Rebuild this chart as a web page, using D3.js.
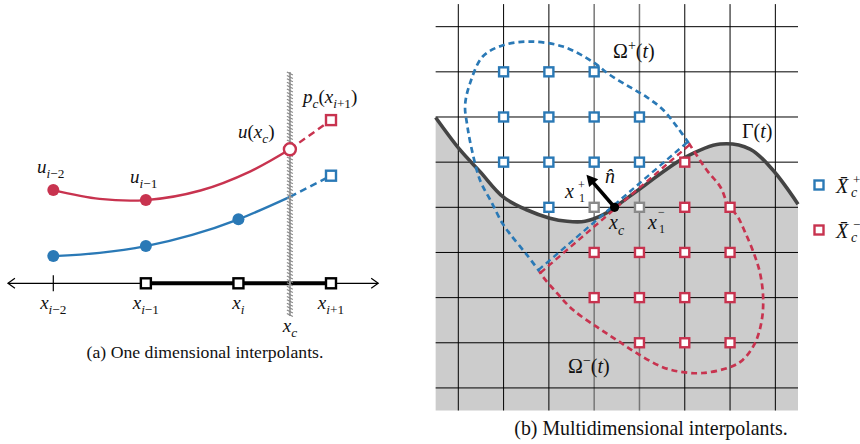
<!DOCTYPE html>
<html>
<head>
<meta charset="utf-8">
<script src="https://cdn.jsdelivr.net/npm/d3@7"></script>
<style>
  body { margin: 0; background: #fff; }
  svg { display: block; }
</style>
</head>
<body>
<svg id="fig" width="860" height="444"></svg>
<script>
// ---------- colours ----------
const BLUE = "#2a79b6";
const RED = "#c8334f";
const GREY_NODE = "#8a8a8a";

// pick the first installed Times-like face
const serifCandidates = ["Liberation Serif", "Tinos", "Times New Roman", "Nimbus Roman", "DejaVu Serif", "Noto Serif", "FreeSerif"];
function pickFont() {
  const ctx = document.createElement("canvas").getContext("2d");
  const probe = "(b) Multidimensional interpolants. WMxil";
  const w = f => { ctx.font = "40px " + f; return ctx.measureText(probe).width; };
  const base1 = w("monospace"), base2 = w("sans-serif");
  for (const f of serifCandidates) {
    const a = w(`"${f}", monospace`), b = w(`"${f}", sans-serif`);
    if (Math.abs(a - base1) > 0.5 && Math.abs(b - base2) > 0.5) return f;
  }
  return null;
}
const chosen = pickFont();
const FONT = chosen ? `"${chosen}", serif` : "serif";

// ---------- (a) one-dimensional data ----------
// grid nodes x_{i-2} .. x_{i+1} (index units) and their subscript offsets
const nodeIndex = [0, 1, 2, 3];
const nodeSub = ["\u22122", "\u22121", "", "+1"];
const stencilNodes = [1, 2, 3];          // nodes drawn as squares on the axis
const interfaceIndex = 2.556;            // location of x_c between x_i and x_{i+1}

// red interpolant (u_{i-2}, u_{i-1} -> u(x_c)) and its extrapolation
const redCurve = [[0, 2.33], [0.5, 2.11], [1, 2.08], [1.59, 2.32], [2.13, 2.80], [2.556, 3.35]];
const redExtrap = [[2.556, 3.35], [3, 4.08]];
const redDots = [[0, 2.33], [1, 2.08]];

// blue interpolant and its extrapolation
const blueCurve = [[0, 0.68], [0.5, 0.76], [1, 0.93], [1.5, 1.21], [2, 1.60], [2.556, 2.16]];
const blueExtrap = [[2.556, 2.16], [3, 2.69]];
const blueDots = [[0, 0.68], [1, 0.93], [2, 1.60]];

// ---------- (b) multidimensional data (grid units) ----------
const gridCols = d3.range(0, 8);
const gridRows = d3.range(0, 9);
const greyCols = [3, 4];

// interface Gamma(t)
const gammaCurve = [[-0.5, 2.01], [0.04, 2.73], [0.48, 3.21], [0.99, 3.77], [1.52, 4.06], [2.02, 4.24],
  [2.40, 4.31], [2.80, 4.31], [3.19, 4.17], [3.45, 4.0], [4.08, 3.54], [4.98, 2.91], [5.78, 2.60],
  [6.44, 2.71], [6.94, 3.17], [7.5, 3.93]];

// shared straight edge of the two stencil regions
const sharedEdge = [[1.79, 5.42], [5.09, 2.58]];
// Omega+ stencil boundary (from the shared edge's upper end, round to its lower end)
const plusBoundary = [[5.09, 2.58], [4.83, 2.22], [4.52, 1.84], [4.16, 1.56], [3.79, 1.34], [3.35, 1.07],
  [2.97, 0.78], [2.31, 0.44], [1.58, 0.33], [0.99, 0.41], [0.54, 0.66], [0.26, 1.25], [0.15, 1.74],
  [0.20, 2.2], [0.30, 2.73], [0.48, 3.40], [0.74, 3.90], [0.96, 4.33], [1.14, 4.59], [1.52, 5.06], [1.79, 5.42]];
// Omega- stencil boundary
const minusBoundary = [[5.09, 2.58], [5.48, 3.17], [5.78, 3.54], [5.96, 3.95], [6.17, 4.21], [6.33, 4.55],
  [6.50, 4.95], [6.66, 5.45], [6.73, 5.99], [6.70, 6.50], [6.55, 7.01], [6.28, 7.38], [6.00, 7.54],
  [5.40, 7.67], [4.96, 7.65], [4.51, 7.54], [3.94, 7.23], [3.50, 6.94], [3.06, 6.65], [2.53, 6.27],
  [2.18, 5.90], [1.87, 5.54], [1.79, 5.42]];

// stencil nodes [col, row]
const plusNodes = [[1, 1], [2, 1], [3, 1], [1, 2], [2, 2], [3, 2], [4, 2], [1, 3], [2, 3], [3, 3], [4, 3], [2, 4]];
const probeNodes = [[3, 4], [4, 4]];
const minusNodes = [[5, 3], [5, 4], [6, 4], [3, 5], [4, 5], [5, 5], [6, 5], [3, 6], [4, 6], [5, 6], [6, 6],
  [4, 7], [5, 7], [6, 7]];

const xcPoint = [3.45, 4.0];
const normalTip = [2.83, 3.28];

// ---------- helpers ----------
const svg = d3.select("#fig");

// math-style label: parts = [{t, it, pos:'sub'|'sup'}]
function mathLabel(g, x, y, parts, size, anchor) {
  const txt = g.append("text")
    .attr("x", x).attr("y", y)
    .style("font-family", FONT)
    .attr("font-size", size)
    .attr("text-anchor", anchor || "start")
    .attr("fill", "#111");
  let cur = 0;
  parts.forEach(p => {
    let target = 0, fs = size;
    if (p.pos === "sub") { target = 0.28 * size; fs = 0.7 * size; }
    if (p.pos === "sup") { target = -0.38 * size; fs = 0.7 * size; }
    txt.append("tspan")
      .attr("dy", target - cur)
      .attr("font-size", fs)
      .attr("font-style", p.it ? "italic" : "normal")
      .text(p.t);
    cur = target;
  });
  return txt;
}

function squares(g, data, sx, sy, color, size, sw) {
  g.selectAll(null).data(data).enter().append("rect")
    .attr("x", d => sx(d[0]) - size / 2)
    .attr("y", d => sy(d[1]) - size / 2)
    .attr("width", size).attr("height", size)
    .attr("fill", "#fff").attr("stroke", color).attr("stroke-width", sw);
}

// =====================================================================
// (a) One dimensional interpolants
// =====================================================================
const xL = d3.scaleLinear().domain([0, 3]).range([53.3, 331]);
const yL = d3.scaleLinear().domain([0, 4]).range([283.3, 123.3]);
const lineL = d3.line().x(d => xL(d[0])).y(d => yL(d[1])).curve(d3.curveCatmullRom.alpha(0.5));
const gA = svg.append("g");

// axis with double arrow
const axY = yL(0);
const axL = xL(-0.49), axR = xL(3.51);
gA.append("line").attr("x1", axL).attr("x2", axR).attr("y1", axY).attr("y2", axY)
  .attr("stroke", "#000").attr("stroke-width", 1.2);
gA.append("path").attr("d", `M${axL + 7},${axY - 5}L${axL},${axY}L${axL + 7},${axY + 5}`)
  .attr("fill", "none").attr("stroke", "#000").attr("stroke-width", 1.2);
gA.append("path").attr("d", `M${axR - 7},${axY - 5}L${axR},${axY}L${axR - 7},${axY + 5}`)
  .attr("fill", "none").attr("stroke", "#000").attr("stroke-width", 1.2);
// stencil segment
gA.append("line").attr("x1", xL(stencilNodes[0])).attr("x2", xL(stencilNodes[stencilNodes.length - 1]))
  .attr("y1", axY).attr("y2", axY).attr("stroke", "#000").attr("stroke-width", 4);
// plain tick at x_{i-2}
gA.append("line").attr("x1", xL(0)).attr("x2", xL(0)).attr("y1", axY - 8).attr("y2", axY + 8)
  .attr("stroke", "#000").attr("stroke-width", 1.2);

// interpolant curves
gA.append("path").attr("d", lineL(redCurve)).attr("fill", "none").attr("stroke", RED).attr("stroke-width", 2.4);
gA.append("path").attr("d", lineL(blueCurve)).attr("fill", "none").attr("stroke", BLUE).attr("stroke-width", 2.4);
gA.append("path").attr("d", lineL(redExtrap)).attr("fill", "none").attr("stroke", RED)
  .attr("stroke-width", 2.4).attr("stroke-dasharray", "7,4.5");
gA.append("path").attr("d", lineL(blueExtrap)).attr("fill", "none").attr("stroke", BLUE)
  .attr("stroke-width", 2.4).attr("stroke-dasharray", "7,4.5");

// hatched wall at x_c
const wx = xL(interfaceIndex);
const wallTop = 72, wallBot = 316;
gA.append("line").attr("x1", wx).attr("x2", wx).attr("y1", wallTop).attr("y2", wallBot)
  .attr("stroke", "#a0a0a0").attr("stroke-width", 2);
gA.selectAll(null).data(d3.range(wallTop, wallBot - 2, 3.4)).enter().append("line")
  .attr("x1", wx - 3).attr("y1", d => d).attr("x2", wx + 3).attr("y2", d => d + 3)
  .attr("stroke", "#888").attr("stroke-width", 1.1);

// points
gA.selectAll(null).data(redDots).enter().append("circle")
  .attr("cx", d => xL(d[0])).attr("cy", d => yL(d[1])).attr("r", 6).attr("fill", RED);
gA.selectAll(null).data(blueDots).enter().append("circle")
  .attr("cx", d => xL(d[0])).attr("cy", d => yL(d[1])).attr("r", 6).attr("fill", BLUE);
gA.append("circle").attr("cx", xL(redCurve[redCurve.length - 1][0])).attr("cy", yL(redCurve[redCurve.length - 1][1]))
  .attr("r", 6).attr("fill", "#fff").attr("stroke", RED).attr("stroke-width", 2.4);
squares(gA, [redExtrap[1]], xL, yL, RED, 10, 2.4);
squares(gA, [blueExtrap[1]], xL, yL, BLUE, 10, 2.4);
squares(gA, stencilNodes.map(k => [k, 0]), xL, yL, "#000", 10, 2.4);

// labels
const LS = 19;
nodeIndex.forEach((k, j) => {
  mathLabel(gA, xL(k), 309, [{ t: "x", it: true }, { t: "i", it: true, pos: "sub" }, { t: nodeSub[j], pos: "sub" }], LS, "middle");
});
mathLabel(gA, wx, 332, [{ t: "x", it: true }, { t: "c", it: true, pos: "sub" }], LS, "middle");
mathLabel(gA, 37, 172.5, [{ t: "u", it: true }, { t: "i", it: true, pos: "sub" }, { t: "\u22122", pos: "sub" }], LS);
mathLabel(gA, 130, 183, [{ t: "u", it: true }, { t: "i", it: true, pos: "sub" }, { t: "\u22121", pos: "sub" }], LS);
mathLabel(gA, 238, 137.5, [{ t: "u", it: true }, { t: "(" }, { t: "x", it: true }, { t: "c", it: true, pos: "sub" }, { t: ")" }], LS);
mathLabel(gA, 303, 103, [{ t: "p", it: true }, { t: "c", it: true, pos: "sub" }, { t: "(" }, { t: "x", it: true },
  { t: "i", it: true, pos: "sub" }, { t: "+1", pos: "sub" }, { t: ")" }], LS);

mathLabel(gA, 205, 358, [{ t: "(a) One dimensional interpolants." }], 17.7, "middle");

// =====================================================================
// (b) Multidimensional interpolants
// =====================================================================
const xR = d3.scaleLinear().domain([-0.5, 7.5]).range([435.65, 798]);
const yR = d3.scaleLinear().domain([-0.5, 8.5]).range([4.1, 410.5]);
const gB = svg.append("g");
const smooth = d3.curveCatmullRom.alpha(0.5);

// region below Gamma
gB.append("path")
  .attr("d", d3.area().x(d => xR(d[0])).y1(d => yR(d[1])).y0(yR(8.5)).curve(smooth)(gammaCurve))
  .attr("fill", "#cccccc");

// grid
gB.selectAll(null).data(gridCols).enter().append("line")
  .attr("x1", d => xR(d)).attr("x2", d => xR(d)).attr("y1", yR(-0.5)).attr("y2", yR(8.5))
  .attr("stroke", d => greyCols.includes(d) ? "#777" : "#000")
  .attr("stroke-width", d => greyCols.includes(d) ? 1.5 : 1);
gB.selectAll(null).data(gridRows).enter().append("line")
  .attr("x1", xR(-0.5)).attr("x2", xR(7.5)).attr("y1", d => yR(d)).attr("y2", d => yR(d))
  .attr("stroke", "#000").attr("stroke-width", 1);

// Gamma(t)
const lineR = d3.line().x(d => xR(d[0])).y(d => yR(d[1])).curve(smooth);
gB.append("path").attr("d", lineR(gammaCurve)).attr("fill", "none")
  .attr("stroke", "#444").attr("stroke-width", 3.6);

// stencil boundaries
const DASH = "6,4";
const lineStraight = d3.line().x(d => xR(d[0])).y(d => yR(d[1]));
gB.append("path").attr("d", lineR(plusBoundary)).attr("fill", "none")
  .attr("stroke", BLUE).attr("stroke-width", 2.7).attr("stroke-dasharray", DASH);
gB.append("path").attr("d", lineR(minusBoundary)).attr("fill", "none")
  .attr("stroke", RED).attr("stroke-width", 2.7).attr("stroke-dasharray", DASH);
gB.append("path").attr("d", lineStraight(sharedEdge)).attr("fill", "none")
  .attr("transform", "translate(-1.1,-1.3)")
  .attr("stroke", BLUE).attr("stroke-width", 2.4).attr("stroke-dasharray", DASH);
gB.append("path").attr("d", lineStraight(sharedEdge)).attr("fill", "none")
  .attr("transform", "translate(1.1,1.3)")
  .attr("stroke", RED).attr("stroke-width", 2.4).attr("stroke-dasharray", DASH);

// stencil nodes
squares(gB, plusNodes, xR, yR, BLUE, 9, 2.4);
squares(gB, minusNodes, xR, yR, RED, 9, 2.4);
squares(gB, probeNodes, xR, yR, GREY_NODE, 9, 2.4);

// normal vector at x_c
{
  const x0 = xR(xcPoint[0]), y0 = yR(xcPoint[1]);
  const x1 = xR(normalTip[0]), y1 = yR(normalTip[1]);
  const L = Math.hypot(x1 - x0, y1 - y0);
  const ux = (x1 - x0) / L, uy = (y1 - y0) / L;
  const hl = 11, hw = 6;
  const bx = x1 - ux * hl, by = y1 - uy * hl;
  gB.append("line").attr("x1", x0).attr("y1", y0).attr("x2", bx + ux * 1).attr("y2", by + uy * 1)
    .attr("stroke", "#000").attr("stroke-width", 3.6);
  gB.append("path")
    .attr("d", `M${x1},${y1}L${bx - uy * hw},${by + ux * hw}L${bx + uy * hw},${by - ux * hw}Z`)
    .attr("fill", "#000");
  gB.append("circle").attr("cx", x0).attr("cy", y0).attr("r", 4.6).attr("fill", "#000");
}

// labels
const RS = 20;
mathLabel(gB, 613, 58, [{ t: "\u03A9" }, { t: "+", pos: "sup" }, { t: "(" }, { t: "t", it: true }, { t: ")" }], RS);
mathLabel(gB, 568, 373, [{ t: "\u03A9" }, { t: "\u2212", pos: "sup" }, { t: "(" }, { t: "t", it: true }, { t: ")" }], RS);
mathLabel(gB, 742, 138, [{ t: "\u0393" }, { t: "(" }, { t: "t", it: true }, { t: ")" }], RS);
mathLabel(gB, 605, 183, [{ t: "n\u0302", it: true }], RS);
mathLabel(gB, 565, 198, [{ t: "x", it: true }], RS);
mathLabel(gB, 578, 189, [{ t: "+" }], 12);
mathLabel(gB, 579, 202, [{ t: "1" }], 12);
mathLabel(gB, 609, 229, [{ t: "x", it: true }, { t: "c", it: true, pos: "sub" }], RS);
mathLabel(gB, 648, 229, [{ t: "x", it: true }], RS);
mathLabel(gB, 658, 216, [{ t: "\u2212" }], 12);
mathLabel(gB, 659, 233, [{ t: "1" }], 12);

mathLabel(gB, 651, 435, [{ t: "(b) Multidimensional interpolants." }], 19.9, "middle");

// legend
const legend = [{ color: BLUE, sign: "+", y: 185 }, { color: RED, sign: "\u2212", y: 230 }];
legend.forEach(l => {
  svg.append("rect").attr("x", 819 - 4.5).attr("y", l.y - 4.5).attr("width", 9).attr("height", 9)
    .attr("fill", "#fff").attr("stroke", l.color).attr("stroke-width", 2.4);
  mathLabel(svg, 836, l.y + 8, [{ t: "X\u0304", it: true }], RS);
  mathLabel(svg, 851, l.y + 12, [{ t: "c", it: true }], 14);
  mathLabel(svg, 853, l.y - 1, [{ t: l.sign }], 13);
});
</script>
</body>
</html>
